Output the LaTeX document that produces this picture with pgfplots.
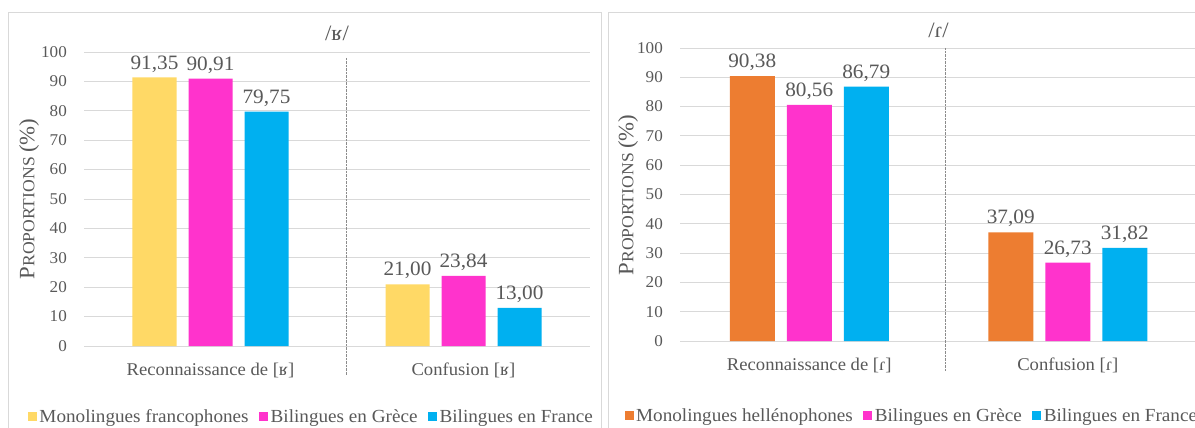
\documentclass[border=0pt]{standalone}
\usepackage{fontspec}
\setmainfont{Liberation Serif}[FakeStretch=1.04]
\usepackage{pgfplots}
\pgfplotsset{compat=1.18}
\definecolor{cyel}{HTML}{FFD966}
\definecolor{cpink}{HTML}{FF33CC}
\definecolor{cblue}{HTML}{00B0F0}
\definecolor{corange}{HTML}{ED7D31}
\definecolor{cgrid}{HTML}{D9D9D9}
\definecolor{ctext}{HTML}{595959}
\pgfplotsset{
 sqlegend/.style={draw=none, legend image code/.code={\fill[##1] (0bp,-4.5bp) rectangle (9bp,4.5bp);}},
 panel/.style={
  scale only axis, ybar=12bp, bar width=44bp,
  ymin=0, ymax=100, ytick={0,10,...,100},
  xmin=-0.5, xmax=1.5, xtick={0,1},
  ymajorgrids, grid style={cgrid, line width=0.8bp},
  axis line style={draw=none}, major tick length=0pt,
  tick label style={text=ctext},
  yticklabel style={font=\fontsize{16.5}{16.5}\selectfont, inner sep=0pt, anchor=east, xshift=-17bp},
  xticklabel style={font=\fontsize{18}{18}\selectfont, inner sep=0pt, anchor=center, yshift=-24bp},
  /pgf/number format/assume math mode=true,
  nodes near coords={\pgfmathprintnumber[fixed, fixed zerofill, precision=2, use comma, assume math mode=true]{\pgfplotspointmeta}},
  every node near coord/.append style={font=\fontsize{20.5}{20.5}\selectfont, text=ctext, anchor=south, inner sep=0pt, yshift=5bp},
  title style={font=\fontsize{22}{22}\selectfont, text=ctext, at={(0.5,1)}, anchor=center, inner sep=0pt},
  clip=false,
  legend columns=3,
  legend style={draw=none, fill=none, font=\fontsize{18.5}{18.5}\selectfont, text=ctext, anchor=center, /tikz/every even column/.append style={column sep=8bp}, inner sep=0pt, /tikz/every node/.append style={inner xsep=2.5bp}},
 },
}
\begin{document}
\begin{tikzpicture}
\useasboundingbox (0,0) rectangle (1195bp,428bp);
\clip (0,0) rectangle (1195bp,428bp);
\fill[white] (0,0) rectangle (1195bp,428bp);
\draw[cgrid] (8bp,-5bp) rectangle (601bp,416bp);
\draw[cgrid] (608bp,-5bp) rectangle (1210bp,416bp);
\node[rotate=90, text=ctext] at (29bp,229bp) {\fontsize{22}{22}\selectfont P\fontsize{17}{17}\selectfont ROPORTIONS \fontsize{22}{22}\selectfont(\%)};
\node[rotate=90, text=ctext] at (628bp,233bp) {\fontsize{22}{22}\selectfont P\fontsize{17}{17}\selectfont ROPORTIONS \fontsize{22}{22}\selectfont(\%)};
\begin{axis}[panel, at={(84bp,82bp)}, anchor=south west, width=506bp, height=294bp,
  title={/ʁ/}, title style={yshift=13bp},
  xticklabels={Reconnaissance de [ʁ], Confusion [ʁ]},
  legend style={at={(0.45,-0.24)}}]
\addplot[fill=cyel, sqlegend] coordinates {(0,91.35) (1,21.00)};
\addplot[fill=cpink, sqlegend] coordinates {(0,90.91) (1,23.84)};
\addplot[fill=cblue, sqlegend] coordinates {(0,79.75) (1,13.00)};
\legend{Monolingues francophones, Bilingues en Grèce, Bilingues en France}
\draw[densely dotted, ctext!70] (axis cs:0.535,98) -- (axis cs:0.535,-10);
\end{axis}
\begin{axis}[panel, at={(680bp,87bp)}, anchor=south west, width=517bp, height=293bp,
  bar width=45bp,
  title={/ɾ/}, title style={yshift=12bp},
  xticklabels={Reconnaissance de [ɾ], Confusion [ɾ]},
  legend style={at={(0.449,-0.255)}}]
\addplot[fill=corange, sqlegend] coordinates {(0,90.38) (1,37.09)};
\addplot[fill=cpink, sqlegend] coordinates {(0,80.56) (1,26.73)};
\addplot[fill=cblue, sqlegend] coordinates {(0,86.79) (1,31.82)};
\legend{Monolingues hellénophones, Bilingues en Grèce, Bilingues en France}
\draw[densely dotted, ctext!70] (axis cs:0.525,100) -- (axis cs:0.525,-10);
\end{axis}
\end{tikzpicture}
\end{document}
